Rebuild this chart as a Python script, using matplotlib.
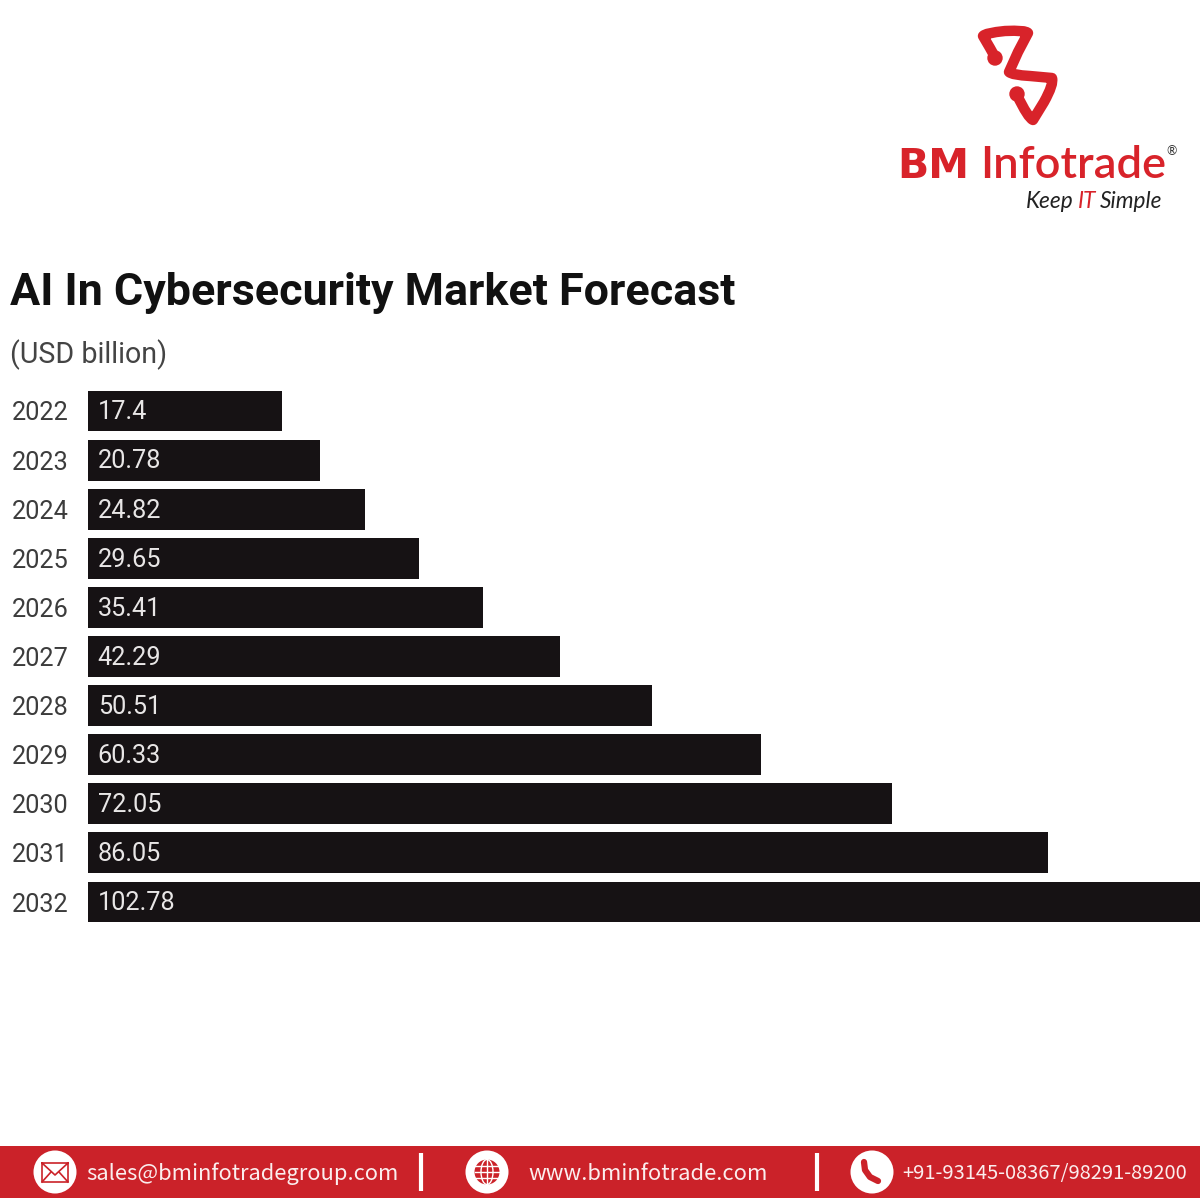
import matplotlib
matplotlib.use("Agg")
import matplotlib.pyplot as plt
from matplotlib.patches import Rectangle, Circle, Ellipse
from matplotlib.path import Path
from matplotlib.patches import PathPatch

years = ["2022","2023","2024","2025","2026","2027","2028","2029","2030","2031","2032"]
values = [17.4,20.78,24.82,29.65,35.41,42.29,50.51,60.33,72.05,86.05,102.78]
value_labels = ["17.4","20.78","24.82","29.65","35.41","42.29","50.51","60.33","72.05","86.05","102.78"]
title = "AI In Cybersecurity Market Forecast"
subtitle = "(USD billion)"
contacts = ["sales@bminfotradegroup.com","www.bminfotrade.com","+91-93145-08367/98291-89200"]

W = H = 1200
fig = plt.figure(figsize=(12,12), dpi=100, facecolor="white")

# overlay in pixel coordinates for page furniture
pg = fig.add_axes([0,0,1,1]); pg.set_xlim(0,W); pg.set_ylim(H,0); pg.axis("off")

# chart axes
left = 88; scale = 11.16; step = 49.1; top_c = 411
y0 = top_c - step/2; y1 = top_c + step*10.5
ax = fig.add_axes([left/W, 1-y1/H, (W-left)/W, (y1-y0)/H])
ax.patch.set_alpha(0)
ax.set_xlim(0,(W-left)/scale)
ax.set_ylim(len(years)-0.5,-0.5)
ax.barh(range(len(years)), values, height=0.835, color="#161214")
for s in ax.spines.values(): s.set_visible(False)
ax.set_yticks(range(len(years)))
ax.set_yticklabels(years, fontfamily="Roboto", fontsize=18.2, color="#3c3c3c")
ax.tick_params(axis="y", length=0, pad=14.2)
ax.set_xticks([])
for i,l in enumerate(value_labels):
    ax.annotate(l,(0,i),xytext=(7,-1),textcoords="offset points",va="center",ha="left",
                fontfamily="Roboto",fontsize=18.2,color="#e8e6e6")

pg.text(10,288,title,fontfamily="Roboto",fontweight="bold",fontsize=32.3,color="#111111",va="center_baseline",ha="left")
pg.text(10,351,subtitle,fontfamily="Roboto",fontsize=20.6,color="#444444",va="center_baseline",ha="left")

# logo
red = "#d8232a"
V = [(995,57),(990,48),(983,36),(985,33),(1005,31),(1026,30),(1028,33),(1018,52),(1009,72),(1012,75),(1030,76),(1052,78),(1054,84),(1044,102),(1033,120),(1028,118),(1017,95)]
C = [Path.MOVETO,Path.LINETO,Path.LINETO,Path.CURVE3,Path.LINETO,Path.CURVE3,Path.CURVE3,Path.LINETO,Path.LINETO,Path.CURVE3,Path.LINETO,Path.LINETO,Path.CURVE3,Path.LINETO,Path.LINETO,Path.CURVE3,Path.LINETO]
pg.add_patch(PathPatch(Path(V,C),fill=False,ec=red,lw=7.5,joinstyle="round",capstyle="round"))
pg.add_patch(Circle((995,58),7,color=red)); pg.add_patch(Circle((1017,94),7,color=red))
pg.text(897,162,"BM",fontfamily="DejaVu Sans",fontweight="bold",fontsize=29.5,color=red,va="center_baseline",ha="left")
pg.text(980,162,"Infotrade",fontfamily="Lato",fontweight="semibold",fontsize=32.6,color=red,va="center_baseline",ha="left")
pg.text(1166,150,"®",fontfamily="Lato",fontsize=9,color="#333333",va="center_baseline",ha="left")
pg.text(1026,199,"Keep",fontfamily="Lato",style="italic",fontsize=16.3,color="#222222",va="center_baseline",ha="left")
pg.text(1078,199,"IT",fontfamily="Lato",style="italic",fontsize=16.3,color=red,va="center_baseline",ha="left")
pg.text(1100,199,"Simple",fontfamily="Lato",style="italic",fontsize=16.3,color="#222222",va="center_baseline",ha="left")

# footer
band = "#cb2229"
pg.add_patch(Rectangle((0,1146),W,52,color=band,lw=0))
for x,tx,t,fs in zip([55,487,872],[86,528,902],contacts,[15.8,15.9,14.45]):
    pg.add_patch(Ellipse((x,1172),43,43,color="white",lw=0))
    pg.text(tx,1171,t,fontfamily="Noto Sans CJK SC",fontsize=fs,color="#fbeeee",va="center_baseline",ha="left")
for x in (421,817):
    pg.plot([x,x],[1153,1191],color="white",lw=3,solid_capstyle="butt")
# envelope icon
pg.plot([42,68,68,42,42,55,68],[1163,1163,1182,1182,1163,1175,1163],color=band,lw=1.2)
pg.plot([42,51],[1182,1172],color=band,lw=1.2); pg.plot([68,59],[1182,1172],color=band,lw=1.2)
# globe icon
pg.add_patch(Circle((487,1172),12.5,fc=band,ec=band,lw=0))
pg.add_patch(Ellipse((487,1172),12,25,fc="none",ec="white",lw=1))
pg.plot([487,487],[1159.5,1184.5],color="white",lw=1)
for y in (1166,1172,1178):
    pg.plot([475,499],[y,y],color="white",lw=1)
# phone icon
pg.plot([864,865,870,878],[1162,1170,1177,1181],color=band,lw=4.5,solid_capstyle="round",solid_joinstyle="round")

fig.savefig("out.png",dpi=100,facecolor="white")
